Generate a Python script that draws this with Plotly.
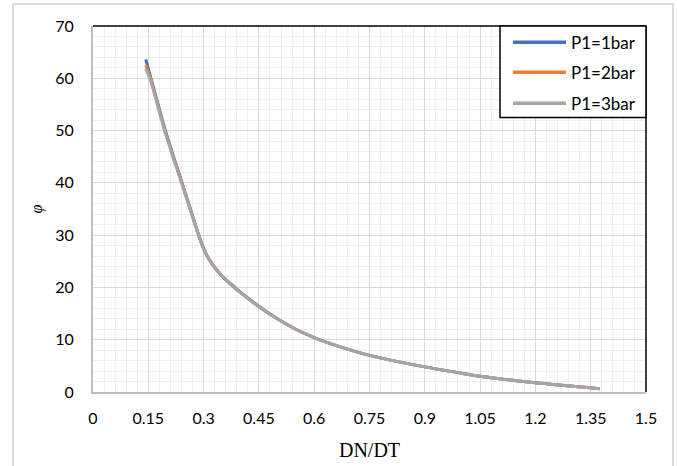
import plotly.graph_objects as go

# ---- data ----
dn_dt = [0.143, 0.156, 0.175, 0.195, 0.218, 0.241, 0.265, 0.285, 0.30, 0.32, 0.35,
         0.38, 0.40, 0.45, 0.50, 0.55, 0.60, 0.65, 0.75, 0.90, 1.00, 1.05, 1.20, 1.35, 1.375]
phi_1bar = [63.6, 60.3, 55.4, 50.3, 45.1, 40.1, 34.8, 30.4, 27.4, 24.8, 22.2,
            20.3, 19.1, 16.4, 14.0, 12.0, 10.4, 9.1, 7.0, 4.8, 3.6, 3.0, 1.75, 0.8, 0.6]
phi_2bar = [62.5, 60.0, 55.1, 50.0, 44.9, 40.0, 34.7, 30.3, 27.4, 24.8, 22.2,
            20.2, 19.0, 16.3, 14.0, 12.0, 10.4, 9.1, 7.0, 4.8, 3.6, 3.0, 1.75, 0.8, 0.6]
phi_3bar = [61.8, 59.6, 54.8, 49.8, 44.7, 39.8, 34.6, 30.3, 27.4, 24.8, 22.2,
            20.2, 19.0, 16.3, 14.0, 12.0, 10.4, 9.1, 7.0, 4.8, 3.6, 3.0, 1.75, 0.8, 0.6]
series_names = ["P1=1bar", "P1=2bar", "P1=3bar"]
series_colors = ["#4472C4", "#ED7D31", "#A5A5A5"]
series_values = [phi_1bar, phi_2bar, phi_3bar]

fig = go.Figure()
for name, col, ys in zip(series_names, series_colors, series_values):
    fig.add_trace(go.Scatter(x=dn_dt, y=ys, mode="lines", name=name,
                             line=dict(color=col, width=3, shape="spline", smoothing=0.8),
                             showlegend=False))

tick_font = dict(family="Lato", size=16, color="#000000")

fig.update_layout(
    width=677, height=466,
    margin=dict(l=93, r=31, t=26, b=73.5, autoexpand=False),
    paper_bgcolor="white", plot_bgcolor="white",
    font=tick_font,
    xaxis=dict(range=[0, 1.5], tick0=0, dtick=0.15, tickformat="~g",
               showgrid=True, gridcolor="#d9d9d9", gridwidth=1,
               minor=dict(dtick=0.03, showgrid=True, gridcolor="#efefef", gridwidth=1),
               showline=True, linecolor="#bfbfbf", linewidth=2,
               zeroline=False, ticks="", ticklabelstandoff=11,
               tickfont=tick_font,
               title=dict(text="DN/DT", font=dict(family="Liberation Serif", size=20, color="#000"),
                          standoff=17)),
    yaxis=dict(range=[0, 70], tick0=0, dtick=10,
               showgrid=True, gridcolor="#d9d9d9", gridwidth=1,
               minor=dict(dtick=2, showgrid=True, gridcolor="#efefef", gridwidth=1),
               showline=True, linecolor="#bfbfbf", linewidth=2,
               zeroline=False, ticks="", ticklabelstandoff=14,
               tickfont=tick_font,
               title=dict(text="<i>φ</i>", font=dict(family="Liberation Serif", size=16, color="#000"),
                          standoff=9)),
)

def px_x(p):
    return (p - 93) / 553.0

def px_y(p):
    return (392.5 - p) / 366.5

shapes = []
# outer chart border
shapes.append(dict(type="rect", xref="paper", yref="paper",
                   x0=px_x(13), x1=px_x(673), y0=px_y(480), y1=px_y(4),
                   line=dict(color="#d0d0d0", width=1.5), fillcolor="rgba(0,0,0,0)", layer="above"))
# black top/right plot-area border
shapes.append(dict(type="line", xref="paper", yref="paper", x0=0, x1=1, y0=1, y1=1,
                   line=dict(color="black", width=1.5), layer="above"))
shapes.append(dict(type="line", xref="paper", yref="paper", x0=1, x1=1, y0=0, y1=1,
                   line=dict(color="black", width=1.5), layer="above"))
# legend box
shapes.append(dict(type="rect", xref="paper", yref="paper",
                   x0=px_x(500), x1=1, y0=px_y(117.7), y1=1,
                   line=dict(color="black", width=1.5), fillcolor="white", layer="above"))
rows = [42.3, 72.3, 103.3]
annotations = []
for name, col, ry in zip(series_names, series_colors, rows):
    shapes.append(dict(type="line", xref="paper", yref="paper",
                       x0=px_x(513), x1=px_x(566), y0=px_y(ry), y1=px_y(ry),
                       line=dict(color=col, width=3.5), layer="above"))
    annotations.append(dict(xref="paper", yref="paper", x=px_x(569), y=px_y(ry),
                            text=name, showarrow=False, xanchor="left", yanchor="middle",
                            font=dict(family="Lato", size=17, color="#000")))

fig.update_layout(shapes=shapes, annotations=annotations)
fig.write_html("out.html", config={"displayModeBar": False},
               post_script="document.body.style.margin='0';")
